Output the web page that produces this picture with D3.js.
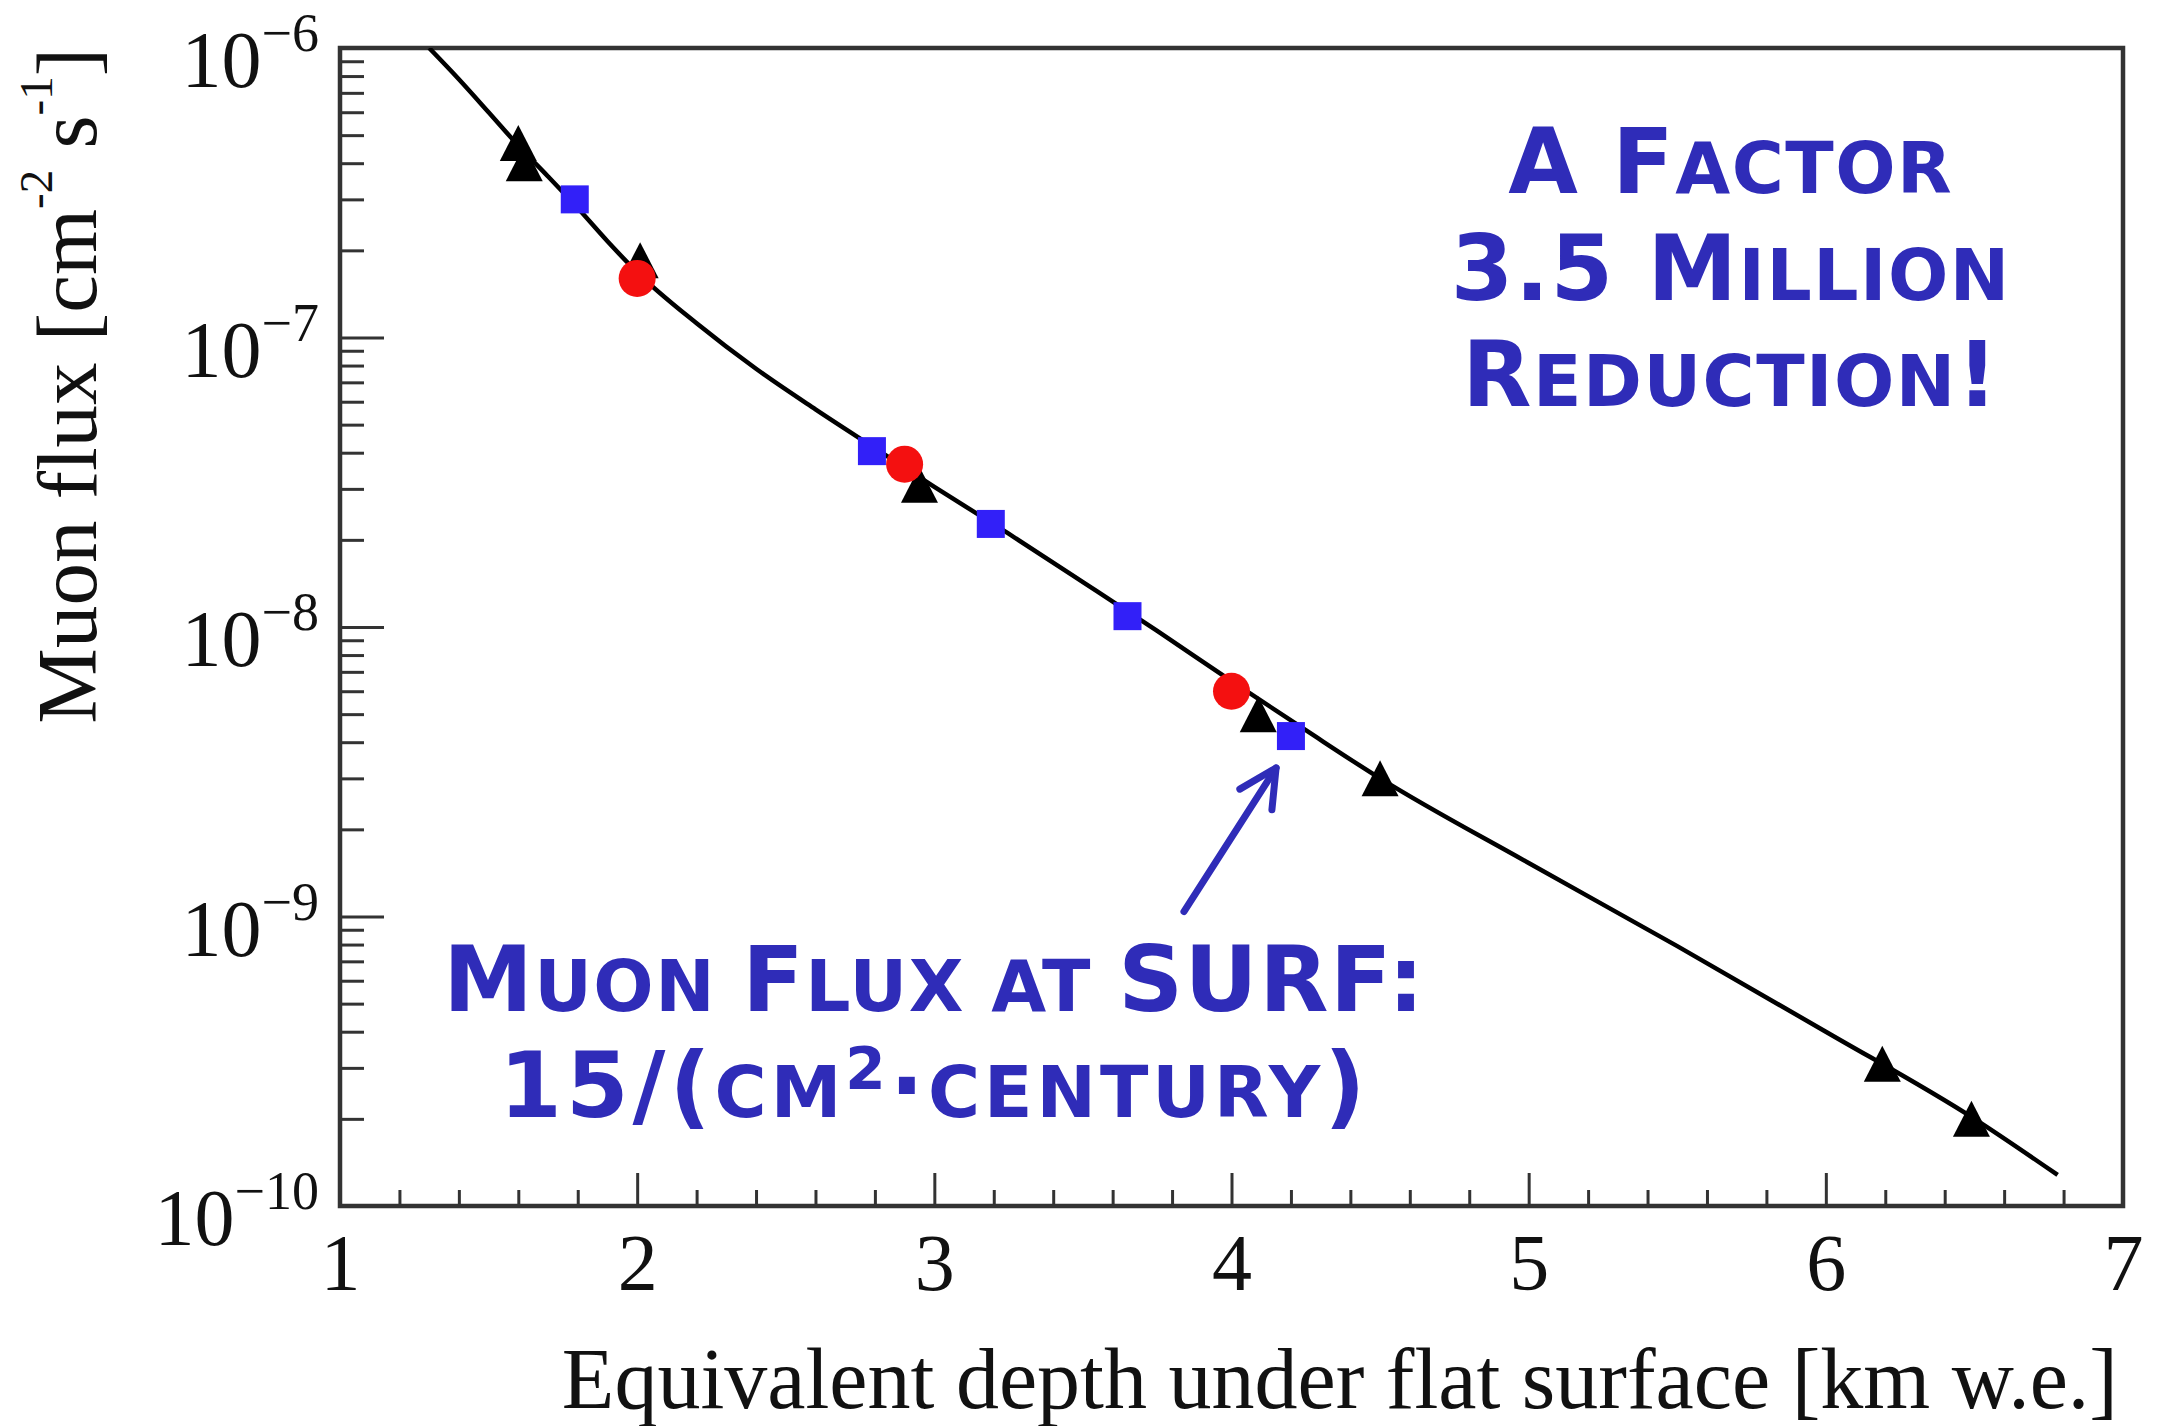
<!DOCTYPE html>
<html>
<head>
<meta charset="utf-8">
<script src="https://cdn.jsdelivr.net/npm/d3@7/dist/d3.min.js"></script>
<style>
  html, body { margin: 0; padding: 0; background: #ffffff; }
  svg { display: block; }
</style>
</head>
<body>
<svg id="chart" width="2157" height="1426"></svg>
<script>
// Vertical muon flux versus equivalent depth (km water equivalent)

// Depth–intensity curve
const fitDepth = [1.30, 1.40, 1.50, 1.60, 1.70, 1.80, 1.90, 2.00, 2.20, 2.40, 2.60, 2.80,
                  3.00, 3.25, 3.50, 3.75, 4.00, 4.25, 4.50, 5.00, 5.50, 6.00, 6.50, 6.78];
const fitFlux  = [1.0e-6, 7.8e-7, 6.0e-7, 4.6e-7, 3.6e-7, 2.8e-7, 2.15e-7, 1.68e-7, 1.12e-7, 7.8e-8, 5.65e-8, 4.15e-8,
                  3.05e-8, 2.1e-8, 1.43e-8, 9.7e-9, 6.5e-9, 4.4e-9, 3.0e-9, 1.53e-9, 7.9e-10, 4.0e-10, 2.0e-10, 1.28e-10];

// Measurements: black triangles
const triDepth = [1.60, 1.62, 2.01, 2.95, 4.09, 4.50, 6.19, 6.49];
const triFlux  = [4.7e-7, 4.0e-7, 1.85e-7, 3.1e-8, 5.0e-9, 3.0e-9, 3.1e-10, 2.0e-10];

// Measurements: blue squares (last one is SURF)
const sqDepth = [1.79, 2.79, 3.19, 3.65, 4.20];
const sqFlux  = [3.0e-7, 4.05e-8, 2.27e-8, 1.09e-8, 4.2e-9];

// Measurements: red circles
const dotDepth = [2.00, 2.90, 4.00];
const dotFlux  = [1.6e-7, 3.65e-8, 6.0e-9];

// Axis ticks and titles
const xTickValues = [1, 2, 3, 4, 5, 6, 7];
const yTickExponents = [-6, -7, -8, -9, -10];
const xTitle = "Equivalent depth under flat surface [km w.e.]";

// Callout text: [segment, style] — 1 capital, 0 small capital, 2 superscript
const calloutTop = [
  [["A F", 1], ["ACTOR", 0]],
  [["3.5 M", 1], ["ILLION", 0]],
  [["R", 1], ["EDUCTION", 0], ["!", 1]]
];
const calloutBottom = [
  [["M", 1], ["UON ", 0], ["F", 1], ["LUX AT ", 0], ["SURF:", 1]],
  [["15/(", 1], ["CM", 0], ["2", 2], ["·", 1], ["CENTURY", 0], [")", 1]]
];
const calloutTopDepth = 5.68;
const calloutBottomDepth = 3.0;
// Arrow pointing at the SURF measurement: [depth, flux]
const arrowFrom = [3.84, 1.04e-9];
const arrowTo   = [4.15, 3.26e-9];

// ---- layout ----
const plotL = 340, plotR = 2123, plotT = 48, plotB = 1206;
const serif = "'Liberation Serif', 'Times New Roman', serif";
const bold = "'DejaVu Sans', Verdana, sans-serif";
const calloutColor = "#2f2cb8";
const axisColor = "#333333";

const svg = d3.select("#chart");

const x = d3.scaleLinear().domain([1, 7]).range([plotL, plotR]);
const y = d3.scaleLog().domain([1e-10, 1e-6]).range([plotB, plotT]);

// clip region
svg.append("defs").append("clipPath").attr("id", "plotClip")
  .append("rect").attr("x", plotL).attr("y", plotT)
  .attr("width", plotR - plotL).attr("height", plotB - plotT);

// ---- axes ----
const xMinor = d3.range(1, 7.0001, 0.2).filter(v => Math.abs(v - Math.round(v)) > 1e-6);
const yMajor = yTickExponents.map(e => Math.pow(10, e));
const yMinor = [];
for (let e = -10; e < -6; e++) for (let m = 2; m <= 9; m++) yMinor.push(m * Math.pow(10, e));

function styleTicks(g, w) {
  g.select(".domain").remove();
  g.selectAll(".tick line").attr("stroke", axisColor).attr("stroke-width", w);
}

svg.append("g").attr("transform", `translate(0,${plotB})`)
  .call(d3.axisBottom(x).tickValues(xMinor).tickSize(-16).tickFormat(""))
  .call(g => styleTicks(g, 3));

const gx = svg.append("g").attr("transform", `translate(0,${plotB})`)
  .call(d3.axisBottom(x).tickValues(xTickValues).tickSize(-33).tickPadding(27).tickFormat(d3.format("d")))
  .call(g => styleTicks(g, 3));
gx.selectAll(".tick text")
  .attr("font-family", serif).attr("font-size", 80).attr("fill", "#111");

svg.append("g").attr("transform", `translate(${plotL},0)`)
  .call(d3.axisLeft(y).tickValues(yMinor).tickSize(-24).tickFormat(""))
  .call(g => styleTicks(g, 3));
svg.append("g").attr("transform", `translate(${plotL},0)`)
  .call(d3.axisLeft(y).tickValues(yMajor).tickSize(-44).tickFormat(""))
  .call(g => styleTicks(g, 3));

// y tick labels: 10^n
const yLab = svg.append("g").attr("font-family", serif).attr("fill", "#111");
yTickExponents.forEach(e => {
  const t = yLab.append("text")
    .attr("x", plotL - 21).attr("y", y(Math.pow(10, e)) + 39)
    .attr("text-anchor", "end").attr("font-size", 80);
  t.append("tspan").text("10");
  t.append("tspan").attr("dy", -36).attr("font-size", 54).text("\u2212" + Math.abs(e));
});

// frame
svg.append("rect")
  .attr("x", plotL).attr("y", plotT)
  .attr("width", plotR - plotL).attr("height", plotB - plotT)
  .attr("fill", "none").attr("stroke", axisColor).attr("stroke-width", 4.5);

// axis titles
svg.append("text")
  .attr("x", 2118).attr("y", 1408)
  .attr("text-anchor", "end")
  .attr("font-family", serif).attr("font-size", 86).attr("fill", "#111")
  .text(xTitle);

const yt = svg.append("text")
  .attr("transform", `translate(96,${plotT}) rotate(-90)`)
  .attr("text-anchor", "end")
  .attr("font-family", serif).attr("font-size", 85).attr("fill", "#111");
yt.append("tspan").text("Muon flux [cm");
yt.append("tspan").attr("dy", -44).attr("font-size", 47).text("-2");
yt.append("tspan").attr("dy", 44).text(" s");
yt.append("tspan").attr("dy", -44).attr("font-size", 47).text("-1");
yt.append("tspan").attr("dy", 44).text("]");

// ---- data ----
const plot = svg.append("g").attr("clip-path", "url(#plotClip)");

const fitPts = fitDepth.map((d, i) => [d, fitFlux[i]]);
plot.append("path")
  .datum(fitPts)
  .attr("fill", "none").attr("stroke", "#000").attr("stroke-width", 4.5)
  .attr("stroke-linejoin", "round")
  .attr("d", d3.line().x(d => x(d[0])).y(d => y(d[1])).curve(d3.curveMonotoneX));

const triW = 37, triH = 36;
plot.selectAll("path.tri")
  .data(triDepth.map((d, i) => [d, triFlux[i]]))
  .join("path").attr("class", "tri")
  .attr("fill", "#000")
  .attr("d", d => {
    const px = x(d[0]), py = y(d[1]);
    return `M${px},${py - triH / 2}L${px + triW / 2},${py + triH / 2}L${px - triW / 2},${py + triH / 2}Z`;
  });

const sq = 28;
plot.selectAll("rect.sq")
  .data(sqDepth.map((d, i) => [d, sqFlux[i]]))
  .join("rect").attr("class", "sq")
  .attr("x", d => x(d[0]) - sq / 2).attr("y", d => y(d[1]) - sq / 2)
  .attr("width", sq).attr("height", sq)
  .attr("fill", "#3220f8");

plot.selectAll("circle.dot")
  .data(dotDepth.map((d, i) => [d, dotFlux[i]]))
  .join("circle").attr("class", "dot")
  .attr("cx", d => x(d[0])).attr("cy", d => y(d[1])).attr("r", 18.5)
  .attr("fill", "#f41010");

// ---- callouts ----
function callout(lines, cx, firstBaseline, step, spacing) {
  const g = svg.append("g")
    .attr("font-family", bold).attr("font-weight", "bold")
    .attr("fill", calloutColor).attr("text-anchor", "middle");
  lines.forEach((segs, i) => {
    const t = g.append("text").attr("x", cx).attr("y", firstBaseline + i * step)
      .attr("letter-spacing", spacing[i])
      .style("white-space", "pre");
    let raised = false;
    segs.forEach(([s, kind]) => {
      const ts = t.append("tspan").text(s);
      if (kind === 2) {
        ts.attr("font-size", 58).attr("dy", -28);
        raised = true;
      } else {
        ts.attr("font-size", kind ? 90 : 71);
        if (raised) { ts.attr("dy", 28); raised = false; }
      }
    });
  });
}
callout(calloutTop, x(calloutTopDepth), 193, 106.5, [1.5, 1.5, 1.5]);
callout(calloutBottom, x(calloutBottomDepth), 1011, 106, [1.5, 4]);

// arrow
const ax0 = x(arrowFrom[0]), ay0 = y(arrowFrom[1]);
const ax1 = x(arrowTo[0]), ay1 = y(arrowTo[1]);
const ang = Math.atan2(ay0 - ay1, ax0 - ax1);
const headLen = 42, headHalf = 27 * Math.PI / 180;
const arrow = svg.append("g")
  .attr("stroke", calloutColor).attr("stroke-width", 7)
  .attr("stroke-linecap", "round").attr("fill", "none");
arrow.append("line").attr("x1", ax0).attr("y1", ay0).attr("x2", ax1).attr("y2", ay1);
arrow.append("path")
  .attr("stroke-linejoin", "round")
  .attr("d", `M${ax1 + headLen * Math.cos(ang - headHalf)},${ay1 + headLen * Math.sin(ang - headHalf)}` +
             `L${ax1},${ay1}` +
             `L${ax1 + headLen * Math.cos(ang + headHalf)},${ay1 + headLen * Math.sin(ang + headHalf)}`);
</script>
</body>
</html>
